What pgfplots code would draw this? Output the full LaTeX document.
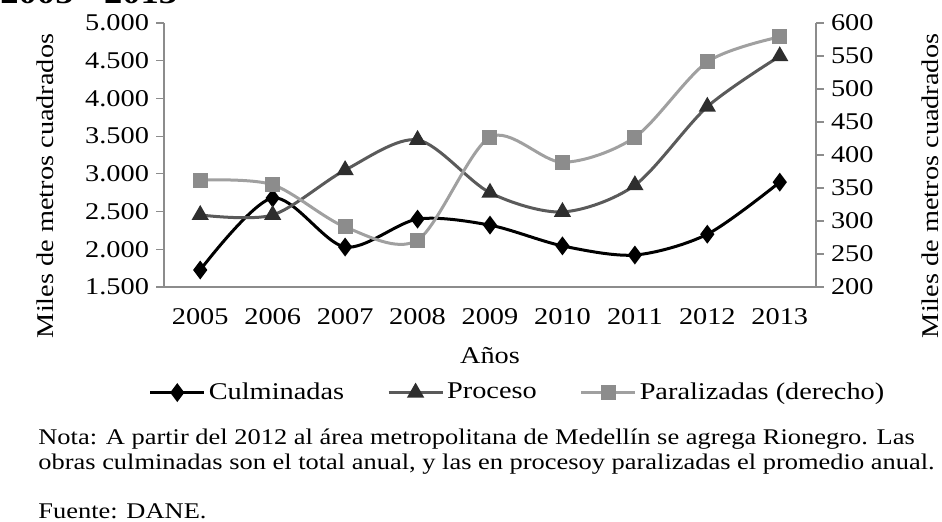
\documentclass[border=0pt]{standalone}
\usepackage{fontspec}
\setmainfont{Liberation Serif}[FakeStretch=1.18]
\usepackage{pgfplots}
\pgfplotsset{compat=1.18}
\definecolor{proc}{HTML}{5A5A5A}
\definecolor{procm}{HTML}{2E2E2E}
\definecolor{para}{HTML}{A0A0A0}
\definecolor{param}{HTML}{8C8C8C}
\definecolor{axisgray}{HTML}{8C8C8C}
\begin{document}
\begin{tikzpicture}[x=1pt,y=1pt]
\useasboundingbox (0,0) rectangle (471,260.5);
\pgfplotsset{
  base/.style={scale only axis, width=326pt, height=132pt, at={(82pt,117pt)}, anchor=south west,
    xmin=-0.5, xmax=8.5,
    axis line style={-, axisgray, line width=0.6pt},
    tick style={axisgray, line width=0.6pt}, tick align=outside, major tick length=4pt,
    font=\fontsize{12}{14}\selectfont,
    /pgf/number format/assume math mode=true, clip=false,
    legend image code/.code={\draw[##1, mark repeat=2, mark phase=2] plot coordinates {(0pt,0pt) (13.5pt,0pt) (27pt,0pt)};},
  },
}
\begin{axis}[base, axis x line*=bottom, axis y line*=left,
  ymin=1500, ymax=5000, ytick={1500,2000,...,5000},
  xtick={0,1,2,3,4,5,6,7,8},
  xticklabels={2005,2006,2007,2008,2009,2010,2011,2012,2013},
  xtick style={draw=none},
  xticklabel style={yshift=-3pt},
  yticklabel style={/pgf/number format/.cd, fixed, precision=0, 1000 sep={.}},
  xlabel={Años}, xlabel style={at={(0.5,-0.261)}, anchor=center},
  ylabel={Miles de metros cuadrados}, ylabel style={at={(-0.1825,0.383)}, anchor=center},
]
\addplot[black, line width=1.5pt, smooth, mark=diamond*, mark size=3.5pt, mark options={solid, fill=black}]
  coordinates {(0,1725)(1,2680)(2,2030)(3,2400)(4,2320)(5,2045)(6,1924)(7,2200)(8,2890)};
\addplot[proc, line width=1.5pt, smooth, mark=triangle*, mark size=3.5pt, mark options={solid, fill=procm, draw=procm}]
  coordinates {(0,2455)(1,2455)(2,3050)(3,3450)(4,2750)(5,2495)(6,2850)(7,3890)(8,4560)};
\end{axis}
\begin{axis}[base, axis y line*=right, axis x line=none,
  ymin=200, ymax=600, ytick={200,250,...,600},
  ylabel={Miles de metros cuadrados}, ylabel style={at={(1.175,0.383)}, anchor=center},
  legend columns=3,
  legend style={at={(0.543,-0.40)}, anchor=center, draw=none, fill=none, font=\fontsize{12}{14}\selectfont,
    nodes={inner xsep=1.5pt},
    /tikz/every even column/.append style={column sep=20pt}},
  legend cell align=left,
]
\addlegendimage{black, line width=1.5pt, mark=diamond*, mark size=3.5pt, mark options={solid, fill=black}}
\addlegendentry{Culminadas}
\addlegendimage{proc, line width=1.5pt, mark=triangle*, mark size=3.5pt, mark options={solid, fill=procm, draw=procm}}
\addlegendentry{Proceso}
\addplot[para, line width=1.5pt, smooth, mark=square*, mark size=3pt, mark options={solid, fill=param, draw=param}]
  coordinates {(0,362)(1,355)(2,291)(3,271)(4,427)(5,389)(6,427)(7,541)(8,579)};
\addlegendentry{Paralizadas (derecho)}
\end{axis}
\node[anchor=base west, inner sep=0, font=\bfseries\fontsize{15.5}{18}\selectfont] at (0,258.5) {2005 - 2013};
\node[anchor=base west, inner sep=0, font=\fontsize{11.2}{13}\selectfont] at (19,38.5) {Nota: A partir del 2012 al área metropolitana de Medellín se agrega Rionegro. Las};
\node[anchor=base west, inner sep=0, font=\fontsize{11.2}{13}\selectfont] at (19,26) {obras culminadas son el total anual, y las en procesoy paralizadas el promedio anual.};
\node[anchor=base west, inner sep=0, font=\fontsize{11.2}{13}\selectfont] at (19,1.5) {Fuente: DANE.};
\end{tikzpicture}
\end{document}
